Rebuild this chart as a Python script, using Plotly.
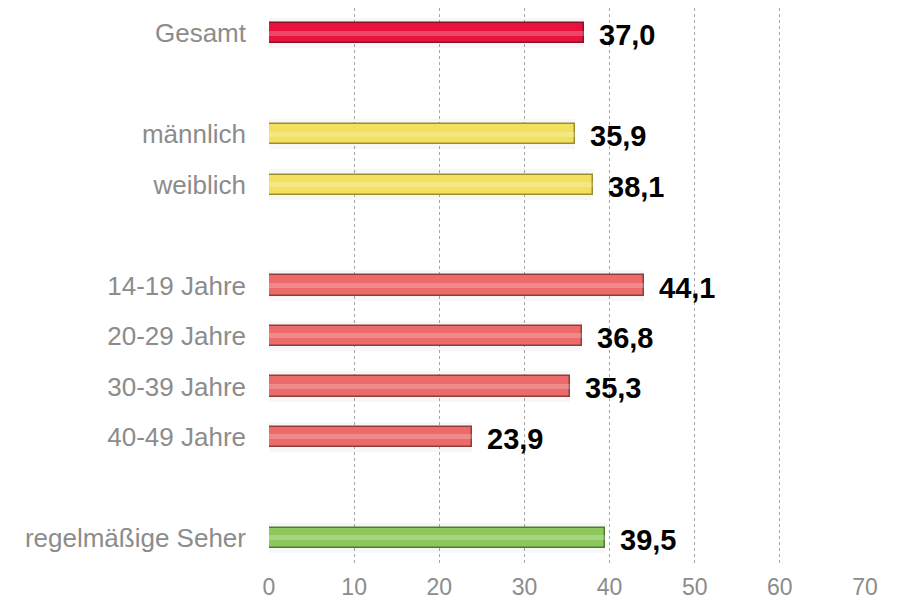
import plotly.graph_objects as go

# categories in display order; None marks an empty spacer row
categories = ["Gesamt", None, "männlich", "weiblich", None,
              "14-19 Jahre", "20-29 Jahre", "30-39 Jahre", "40-49 Jahre", None,
              "regelmäßige Seher"]
values = [37.0, None, 35.9, 38.1, None, 44.1, 36.8, 35.3, 23.9, None, 39.5]
groups = ["total", None, "gender", "gender", None,
          "age", "age", "age", "age", None, "viewer"]

x_ticks = [0, 10, 20, 30, 40, 50, 60, 70]

fill = {"total": "#E8123E", "gender": "#F2E15E", "age": "#EC6A6A", "viewer": "#8DC85C"}
edge = {"total": "#8E1028", "gender": "#9C8E2E", "age": "#8E3C3C", "viewer": "#527A32"}

rows = [i for i, c in enumerate(categories) if c is not None]
ys = rows
xs = [values[i] for i in rows]
labels = [categories[i] for i in rows]
cols = [fill[groups[i]] for i in rows]
lines = [edge[groups[i]] for i in rows]

fig = go.Figure()

# soft shadow underneath bars
fig.add_trace(go.Bar(
    x=xs, y=ys, orientation="h", width=0.6,
    marker=dict(color="rgba(0,0,0,0.03)", line=dict(width=0)),
    hoverinfo="skip", showlegend=False
))

fig.add_trace(go.Bar(
    x=xs, y=ys, orientation="h", width=0.4,
    marker=dict(color=cols, line=dict(color=lines, width=1.5)),
    showlegend=False
))

# highlight stripe for a bit of bevel look
fig.add_trace(go.Bar(
    x=xs, y=ys, orientation="h", width=0.1,
    marker=dict(color="rgba(255,255,255,0.22)", line=dict(width=0)),
    hoverinfo="skip", showlegend=False
))

for x, y in zip(xs, ys):
    fig.add_annotation(
        x=x, y=y, text=f"{x:.1f}".replace(".", ","),
        showarrow=False, xanchor="left", xshift=13, yshift=-2,
        font=dict(family="Arial, Liberation Sans, sans-serif", size=29, color="black", weight="bold")
    )

# page body has an 8px margin, so margins are trimmed accordingly
fig.update_layout(
    width=903, height=606,
    margin=dict(l=261, r=46, t=0, b=51),
    plot_bgcolor="white", paper_bgcolor="white",
    barmode="overlay", bargap=0,
    font=dict(family="Arial, Liberation Sans, sans-serif", color="#8C8C8C"),
)

fig.update_xaxes(
    range=[0, 70], tickvals=x_ticks, ticktext=[str(t) for t in x_ticks],
    showgrid=True, gridcolor="#A6A6A6", griddash="dot", gridwidth=1,
    zeroline=False, showline=False, ticks="", automargin=False,
    ticklabelstandoff=8,
    tickfont=dict(size=23, family="Liberation Sans Narrow, Arial Narrow, Arial, sans-serif", color="#8C8C8C"),
)
fig.update_yaxes(
    range=[10.5, -0.5], tickvals=ys, ticktext=labels,
    showgrid=False, zeroline=False, showline=False, ticks="", automargin=False,
    ticklabelstandoff=22,
    tickfont=dict(size=26, color="#8C8C8C"),
)

fig.write_html("out.html")
